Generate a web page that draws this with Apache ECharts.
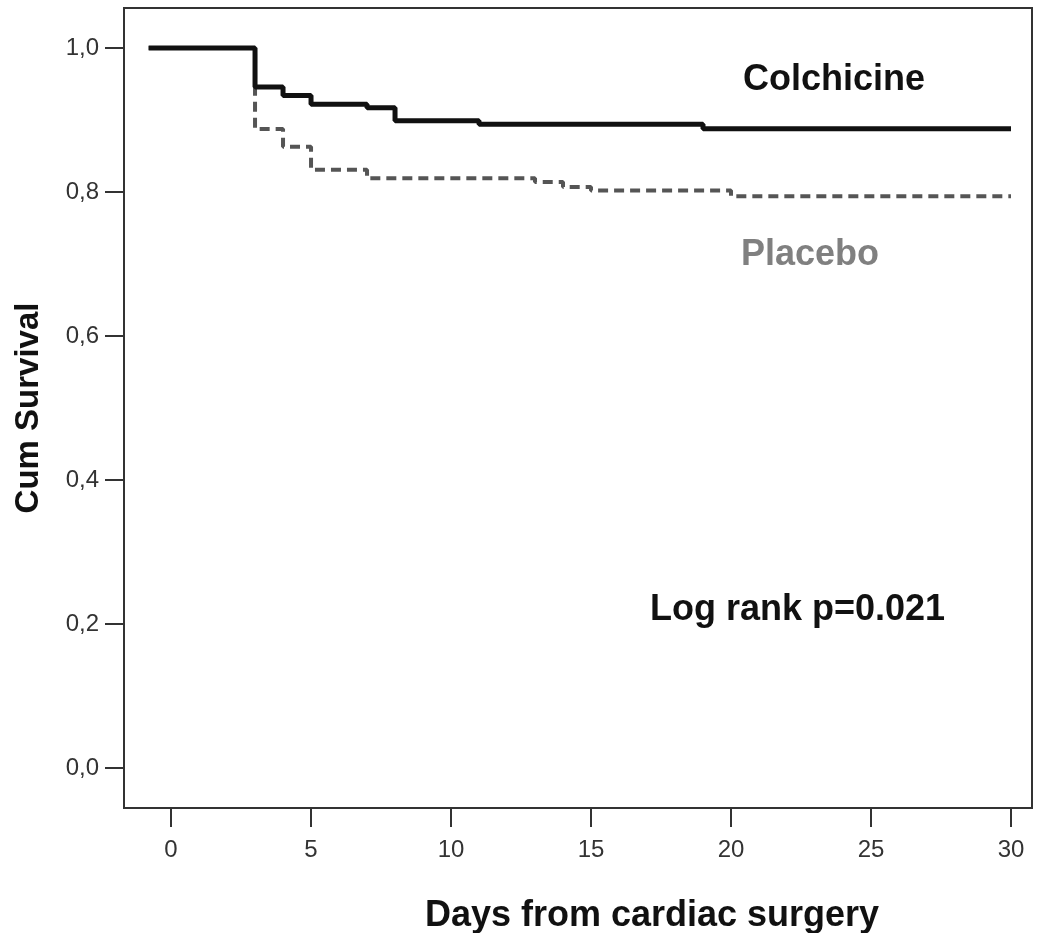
<!DOCTYPE html>
<html>
<head>
<meta charset="utf-8">
<script src="https://cdn.jsdelivr.net/npm/echarts@6/dist/echarts.min.js"></script>
<style>
html,body{margin:0;padding:0;background:#fff;}
#chart{width:1043px;height:933px;}
</style>
</head>
<body>
<div id="chart"></div>
<script>
const colchicineDays = [-0.8, 3, 4, 5, 7, 8, 11, 19, 30];
const colchicineSurv = [1.0, 0.946, 0.934, 0.922, 0.917, 0.899, 0.894, 0.888, 0.888];
const placeboDays = [-0.8, 3, 4, 5, 7, 13, 14, 15, 20, 30];
const placeboSurv = [1.0, 0.8875, 0.863, 0.831, 0.819, 0.814, 0.807, 0.802, 0.794, 0.794];
const xTicks = [0, 5, 10, 15, 20, 25, 30];
const yTicks = [0, 0.2, 0.4, 0.6, 0.8, 1.0];
const seriesNames = ['Colchicine', 'Placebo'];
const annotation = 'Log rank p=0.021';
const xTitle = 'Days from cardiac surgery';
const yTitle = 'Cum Survival';

const FONT = '"Liberation Sans", Arial, sans-serif';
const chart = echarts.init(document.getElementById('chart'), null, {renderer: 'canvas'});

const colData = colchicineDays.map((d, i) => [d, colchicineSurv[i]]);
const plaData = placeboDays.map((d, i) => [d, placeboSurv[i]]);

chart.setOption({
  animation: false,
  backgroundColor: '#fff',
  grid: {left: 124, right: 11, top: 8, bottom: 125, show: true, borderColor: '#333', borderWidth: 2,
    backgroundColor: 'transparent', containLabel: false, outerBoundsMode: 'none'},
  xAxis: {
    type: 'value', min: -1.68, max: 30.75,
    name: xTitle, nameLocation: 'middle', nameGap: 90,
    nameTextStyle: {fontFamily: FONT, fontWeight: 'bold', fontSize: 36, color: '#111', padding: [0, 0, 0, 148]},
    axisLine: {show: true, onZero: false, lineStyle: {color: '#333', width: 2}},
    axisTick: {show: true, length: 19, lineStyle: {color: '#333', width: 2}, customValues: xTicks},
    axisLabel: {customValues: xTicks, margin: 30, fontFamily: FONT, fontSize: 24, color: '#333',
      formatter: v => String(Math.round(v))},
    splitLine: {show: false}
  },
  yAxis: {
    type: 'value', min: -0.0556, max: 1.0556,
    name: yTitle, nameLocation: 'middle', nameGap: 79, nameRotate: 90,
    nameTextStyle: {fontFamily: FONT, fontWeight: 'bold', fontSize: 33, color: '#111'},
    axisLine: {show: true, onZero: false, lineStyle: {color: '#333', width: 2}},
    axisTick: {show: true, length: 19, lineStyle: {color: '#333', width: 2}, customValues: yTicks},
    axisLabel: {customValues: yTicks, margin: 25, fontFamily: FONT, fontSize: 24, color: '#333',
      formatter: v => v.toFixed(1).replace('.', ',')},
    splitLine: {show: false}
  },
  series: [
    {
      name: seriesNames[1], type: 'line', step: 'end', data: plaData, symbol: 'none',
      lineStyle: {color: '#555', width: 4, type: [10, 6]}, z: 2
    },
    {
      name: seriesNames[0], type: 'line', step: 'end', data: colData, symbol: 'none',
      lineStyle: {color: '#111', width: 5}, z: 3
    }
  ],
  graphic: [
    {type: 'text', left: 743, top: 62, style: {text: seriesNames[0], font: 'bold 36px ' + FONT, fill: '#111'}},
    {type: 'text', left: 741, top: 237, style: {text: seriesNames[1], font: 'bold 36px ' + FONT, fill: '#808080'}},
    {type: 'text', left: 650, top: 592, style: {text: annotation, font: 'bold 36px ' + FONT, fill: '#111'}}
  ]
});
</script>
</body>
</html>
